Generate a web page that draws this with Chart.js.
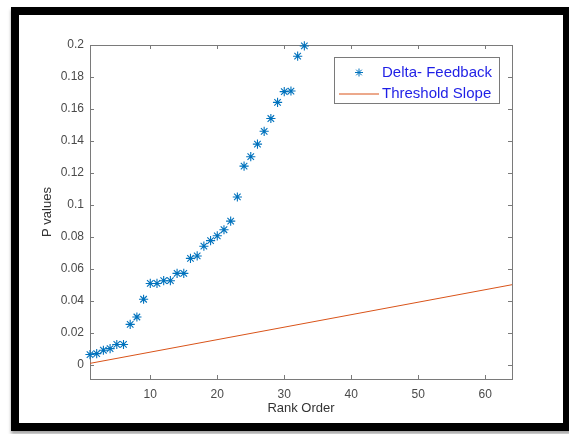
<!DOCTYPE html>
<html>
<head>
<meta charset="utf-8">
<script src="https://cdn.jsdelivr.net/npm/chart.js@4.4.1/dist/chart.umd.min.js"></script>
<style>
    html, body { margin: 0; padding: 0; background: #fff; overflow: hidden; }
    body { width: 569px; height: 434px; position: relative; }
    .frame {
        position: absolute; left: 11px; top: 7px; width: 560px; height: 424px;
        box-sizing: border-box; border: 8px solid #000; background: #fff;
        box-shadow: 0 3px 3px rgba(0, 0, 0, 0.35);
    }
    #chart { position: absolute; left: 0; top: 0; }
</style>
</head>
<body>
<div class="frame"></div>
<canvas id="chart" width="569" height="434"></canvas>
<script>
// Ranked p values (Delta- Feedback)
const ranks = [1, 2, 3, 4, 5, 6, 7, 8, 9, 10, 11, 12, 13, 14, 15, 16, 17,
    18, 19, 20, 21, 22, 23, 24, 25, 26, 27, 28, 29, 30, 31, 32, 33];
const pValues = [0.0063, 0.0069, 0.009, 0.010, 0.0126, 0.0126, 0.0252, 0.0298,
    0.0409, 0.0508, 0.0508, 0.0525, 0.0525, 0.0571, 0.0571, 0.0665, 0.068,
    0.0741, 0.0776, 0.0806, 0.0844, 0.0898, 0.1049, 0.1242, 0.1301, 0.138,
    0.146, 0.154, 0.1641, 0.1708, 0.1712, 0.193, 0.1994];

// Threshold slope end points
const thresholdRanks = [1, 64];
const thresholdValues = [0.00078, 0.05];

// Axis ticks
const xTicks = [10, 20, 30, 40, 50, 60];
const yTicks = [0, 0.02, 0.04, 0.06, 0.08, 0.1, 0.12, 0.14, 0.16, 0.18, 0.2];

const COLORS = {
    points: '#0072bd',
    threshold: '#d95319',
    axis: '#7a7a7a',
    text: '#4a4a4a',
    legendText: '#1f1fe6'
};
const FONT = 'Liberation Sans, Arial, Helvetica, sans-serif';

// Box round the axes with inward ticks, MATLAB style
const axesBox = {
    id: 'axesBox',
    beforeDatasetsDraw(chart) {
        const { ctx, chartArea: a, scales } = chart;
        const tl = 4;
        ctx.save();
        ctx.strokeStyle = COLORS.axis;
        ctx.lineWidth = 1;
        ctx.strokeRect(Math.round(a.left) + 0.5, Math.round(a.top) + 0.5,
            Math.round(a.right - a.left), Math.round(a.bottom - a.top));
        ctx.beginPath();
        xTicks.forEach(v => {
            const x = Math.round(scales.x.getPixelForValue(v)) + 0.5;
            ctx.moveTo(x, a.bottom); ctx.lineTo(x, a.bottom - tl);
            ctx.moveTo(x, a.top); ctx.lineTo(x, a.top + tl);
        });
        yTicks.forEach(v => {
            const y = Math.round(scales.y.getPixelForValue(v)) + 0.5;
            ctx.moveTo(a.left, y); ctx.lineTo(a.left + tl, y);
            ctx.moveTo(a.right, y); ctx.lineTo(a.right - tl, y);
        });
        ctx.stroke();
        ctx.restore();
    }
};

// Legend drawn inside the plot, top right
const insideLegend = {
    id: 'insideLegend',
    afterDraw(chart) {
        const { ctx } = chart;
        const box = { x: 334.5, y: 57.5, w: 165, h: 46 };
        ctx.save();
        ctx.fillStyle = '#fff';
        ctx.fillRect(box.x, box.y, box.w, box.h);
        ctx.strokeStyle = COLORS.axis;
        ctx.lineWidth = 1;
        ctx.strokeRect(box.x, box.y, box.w, box.h);

        const row1 = box.y + 15;
        const row2 = box.y + 36;
        // asterisk marker
        ctx.strokeStyle = COLORS.points;
        ctx.lineWidth = 1;
        ctx.beginPath();
        const r = 4;
        const d = r * 0.7;
        ctx.moveTo(359 - r, row1); ctx.lineTo(359 + r, row1);
        ctx.moveTo(359, row1 - r); ctx.lineTo(359, row1 + r);
        ctx.moveTo(359 - d, row1 - d); ctx.lineTo(359 + d, row1 + d);
        ctx.moveTo(359 - d, row1 + d); ctx.lineTo(359 + d, row1 - d);
        ctx.stroke();

        ctx.strokeStyle = COLORS.threshold;
        ctx.lineWidth = 1;
        ctx.beginPath();
        ctx.moveTo(339, row2 + 0.5); ctx.lineTo(379, row2 + 0.5);
        ctx.stroke();

        ctx.fillStyle = COLORS.legendText;
        ctx.font = '15px ' + FONT;
        ctx.textBaseline = 'middle';
        ctx.textAlign = 'left';
        ctx.fillText('Delta- Feedback', 382, row1);
        ctx.fillText('Threshold Slope', 382, row2);
        ctx.restore();
    }
};

const ctx = document.getElementById('chart');
new Chart(ctx, {
    type: 'scatter',
    data: {
        datasets: [
            {
                label: 'Delta- Feedback',
                data: ranks.map((r, i) => ({ x: r, y: pValues[i] })),
                pointStyle: 'star',
                pointRadius: 4.6,
                pointBorderWidth: 1.1,
                borderColor: COLORS.points,
                backgroundColor: COLORS.points,
                showLine: false,
                clip: false
            },
            {
                label: 'Threshold Slope',
                data: thresholdRanks.map((r, i) => ({ x: r, y: thresholdValues[i] })),
                borderColor: COLORS.threshold,
                backgroundColor: COLORS.threshold,
                borderWidth: 1,
                pointRadius: 0,
                showLine: true
            }
        ]
    },
    options: {
        responsive: false,
        animation: false,
        events: [],
        layout: { padding: { left: 36, top: 45, right: 57, bottom: 14 } },
        plugins: {
            legend: { display: false },
            tooltip: { enabled: false }
        },
        scales: {
            x: {
                type: 'linear',
                min: 1,
                max: 64,
                afterBuildTicks: scale => { scale.ticks = xTicks.map(v => ({ value: v })); },
                afterFit: scale => { scale.height = 41; },
                grid: { display: false, drawTicks: false },
                border: { display: false },
                ticks: {
                    color: COLORS.text,
                    font: { family: FONT, size: 12 },
                    padding: 8,
                    maxRotation: 0
                },
                title: {
                    display: true,
                    text: 'Rank Order',
                    color: '#333',
                    font: { family: FONT, size: 13 }
                }
            },
            y: {
                type: 'linear',
                min: -0.009,
                max: 0.2,
                afterBuildTicks: scale => { scale.ticks = yTicks.map(v => ({ value: v })); },
                afterFit: scale => { scale.width = 54; },
                grid: { display: false, drawTicks: false },
                border: { display: false },
                ticks: {
                    color: COLORS.text,
                    font: { family: FONT, size: 12 },
                    padding: 6,
                    callback: v => String(Math.round(v * 100) / 100)
                },
                title: {
                    display: true,
                    text: 'P values',
                    color: '#333',
                    font: { family: FONT, size: 13 }
                }
            }
        }
    },
    plugins: [axesBox, insideLegend]
});
</script>
</body>
</html>
